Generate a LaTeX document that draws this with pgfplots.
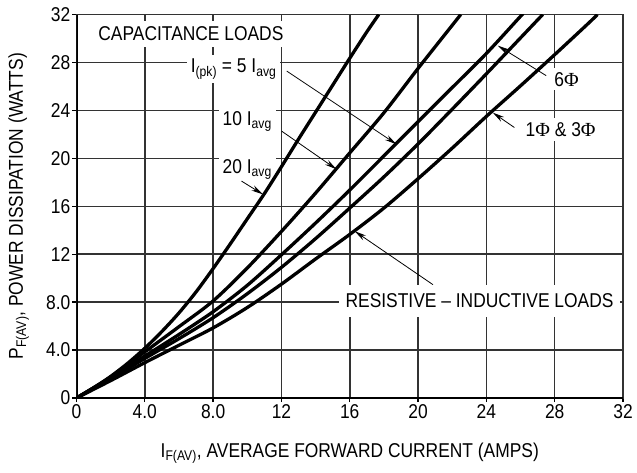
\documentclass[border=0pt]{standalone}
\usepackage{fontspec}
\setmainfont{Liberation Sans}[FakeStretch=0.87]
\newfontfamily\phifont{Liberation Serif}
\usepackage{pgfplots}
\usepackage{pgfplotstable}
\pgfplotsset{compat=1.18}
\usetikzlibrary{arrows.meta}

\pgfplotstableread{
x y
0 0
1 0.85
2 1.8
3 2.9
4 4.15
5 5.55
6 7.1
7 8.85
8 10.8
9 12.85
10 14.95
11 17.05
12 19.3
13 21.6
14 23.85
15 26.1
16 28.35
17 30.55
17.7 32
}\cA

\pgfplotstableread{
x y
0 0
2 1.75
4 3.85
6 5.95
8 8.1
10 10.85
12 13.9
14 17.1
16 20.45
18 23.8
20 27.5
22 31.1
22.5 32
}\cB

\pgfplotstableread{
x y
0 0
2 1.7
4 3.5
6 5.3
8 7.2
10 9.4
12 11.95
14 14.6
16 17.35
18 20.2
20 23.05
22 25.9
24 28.75
26 31.85
26.1 32
}\cC

\pgfplotstableread{
x y
0 0
2 1.6
4 3.3
6 4.95
8 6.7
10 8.7
12 10.9
14 13.3
16 15.85
18 18.45
20 21.2
22 24.1
24 27.05
26 30.05
27.3 32
}\cD

\pgfplotstableread{
x y
0 0
2 1.45
4 2.95
6 4.4
8 5.85
10 7.55
12 9.5
14 11.6
16 13.65
18 15.85
20 18.3
22 20.85
24 23.5
26 26.05
28 28.65
30 31.3
30.5 32
}\cE

\begin{document}
\fontsize{20}{24}\selectfont
\begin{tikzpicture}[font=\fontsize{20}{24}\selectfont,
  lab/.style={fill=white, inner sep=4pt},
  arr/.style={-{Stealth[length=12pt,width=5.5pt]}, line width=0.8pt}]
\begin{axis}[
  scale only axis, width=546.5pt, height=383.5pt,
  xmin=0, xmax=32, ymin=0, ymax=32,
  xtick={0,4,...,32}, ytick={0,4,...,32},
  xticklabels={0,4.0,8.0,12,16,20,24,28,32},
  yticklabels={0,4.0,8.0,12,16,20,24,28,32},
  grid=major,
  major grid style={line width=1.5pt, black!80},
  axis line style={line width=1.5pt, black!80},
  tick pos=left, tick align=outside, major tick length=4pt,
  tick style={line width=1.3pt, black},
  xticklabel style={inner sep=2pt},
  yticklabel style={inner sep=2pt},
  every axis x label/.style={at={(axis description cs:0.5,-0.154)}, anchor=base},
  every axis y label/.style={at={(axis description cs:-0.098,0.5)}, anchor=base, rotate=90},
  xlabel={I\textsubscript{F(AV)}, AVERAGE FORWARD CURRENT (AMPS)},
  ylabel={P\textsubscript{F(AV)}, POWER DISSIPATION (WATTS)},
]
\node[lab, inner sep=6pt] at (axis cs:6.7,30.4) {CAPACITANCE LOADS};
\node[lab] at (axis cs:9.2,27.45) {I\textsubscript{(pk)} = 5 I\textsubscript{avg}};
\node[lab] at (axis cs:10.0,23.1) {10 I\textsubscript{avg}};
\node[lab] at (axis cs:10.0,19.1) {20 I\textsubscript{avg}};
\node[lab] at (axis cs:28.7,26.6) {6{\phifont Φ}};
\node[lab] at (axis cs:28.35,22.4) {1{\phifont Φ} \& 3{\phifont Φ}};
\node[fill=white, inner xsep=7pt, inner ysep=9pt] at (axis cs:23.6,8.1) {RESISTIVE – INDUCTIVE LOADS};

\addplot[black, line width=3.3pt, smooth] table {\cA};
\addplot[black, line width=3.3pt, smooth] table {\cB};
\addplot[black, line width=3.3pt, smooth] table {\cC};
\addplot[black, line width=3.3pt, smooth] table {\cD};
\addplot[black, line width=3.3pt, smooth] table {\cE};

\draw[arr] (axis cs:12.31,27.28) -- (axis cs:18.74,21.17);
\draw[arr] (axis cs:12.02,22.26) -- (axis cs:15.23,19.08);
\draw[arr] (axis cs:9.66,18.1) -- (axis cs:10.92,16.99);
\draw[arr] (axis cs:27.5,26.9) -- (axis cs:24.67,29.4);
\draw[arr] (axis cs:25.64,22.57) -- (axis cs:24.37,23.82);
\draw[arr] (axis cs:20.87,9.46) -- (axis cs:16.29,13.92);

\draw[line width=2.6pt, black] (axis cs:0,32) -- (axis cs:0,0) -- (axis cs:32,0);
\end{axis}
\pgfresetboundingbox
\path (-76.5pt,-74pt) rectangle (560.5pt,398pt);
\end{tikzpicture}
\end{document}
